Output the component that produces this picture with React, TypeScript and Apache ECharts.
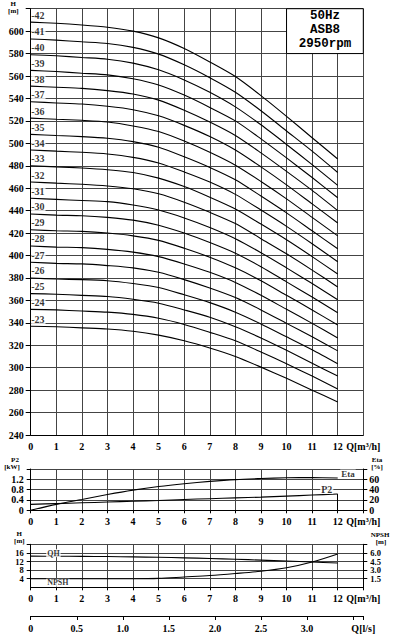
import React, { useEffect, useRef } from "react";
import * as echarts from "echarts";

// Flow rate points (m³/h)
const Q_M3H = [0, 1, 2, 3, 4, 5, 6, 7, 8, 9, 10, 11, 12];

// Stage numbers of the head curves
const STAGES = [42, 41, 40, 39, 38, 37, 36, 35, 34, 33, 32, 31, 30, 29, 28, 27, 26, 25, 24, 23];

// Head curves H [m] for each stage count
const H_42 = [608, 607, 605.5, 603.5, 600, 594, 584.5, 572.5, 559.5, 542.5, 524, 505, 486];
const H_41 = [593, 592, 590.5, 589, 585.5, 579.5, 570, 558.5, 545.5, 529, 511, 493, 474];
const H_40 = [579, 578, 576.5, 575, 571.5, 565.5, 556.5, 545.5, 532.5, 516.5, 499, 481, 462.5];
const H_39 = [565, 564, 562.5, 561, 557.5, 552, 543, 532, 520, 504, 487, 469.5, 451.5];
const H_38 = [551, 550, 549, 547, 544, 538.5, 529.5, 519, 507, 491.5, 475, 458, 440];
const H_37 = [537, 536, 535, 533, 530, 524.5, 516, 506, 494, 479, 463, 446, 429];
const H_36 = [522.5, 521.5, 520.5, 519, 515.5, 510.5, 502, 492, 480.5, 466, 450.5, 434, 417.5];
const H_35 = [508, 507, 506, 504.5, 501.5, 496.5, 488, 478.5, 467.5, 453, 438, 422, 406];
const H_34 = [494, 493, 492, 490.5, 487.5, 482.5, 474.5, 465.5, 454.5, 440.5, 426, 410.5, 394.5];
const H_33 = [480, 479, 478, 476.5, 474, 469, 461.5, 452, 441.5, 428, 414, 399, 383.5];
const H_32 = [465.5, 464.5, 463.5, 462, 459.5, 455, 447.5, 438.5, 428.5, 415, 401.5, 387, 372];
const H_31 = [451, 450, 449, 448, 445, 440.5, 433.5, 425, 415, 402.5, 389, 375, 360.5];
const H_30 = [437, 436, 435.5, 434, 431.5, 427, 420, 411.5, 402, 390, 376.5, 363, 349];
const H_29 = [423, 422, 421.5, 420, 417.5, 413.5, 406.5, 398.5, 389, 377.5, 364.5, 351.5, 338];
const H_28 = [408.5, 407.5, 407, 405.5, 403, 399, 392.5, 385, 376, 364.5, 352, 339.5, 326.5];
const H_27 = [394, 393, 392.5, 391, 389, 385, 378.5, 371, 362.5, 351.5, 339.5, 327.5, 315];
const H_26 = [380, 379, 378.5, 377.5, 375, 371.5, 365, 358, 349.5, 339, 327.5, 316, 303.5];
const H_25 = [366, 365.5, 364.5, 363.5, 361, 357.5, 351.5, 345, 336.5, 326.5, 315.5, 304, 292.5];
const H_24 = [352, 351.5, 350.5, 349.5, 347.5, 344, 338.5, 331.5, 324, 314, 303.5, 292.5, 281];
const H_23 = [337, 336.5, 335.5, 334.5, 332.5, 329, 324, 317.5, 310, 300.5, 290.5, 280, 269.5];

const HEADS = [H_42, H_41, H_40, H_39, H_38, H_37, H_36, H_35, H_34, H_33, H_32, H_31, H_30, H_29, H_28, H_27, H_26, H_25, H_24, H_23];

// Power P2 [kW] and efficiency Eta [%]
const P2_KW = [0.23, 0.26, 0.29, 0.32, 0.35, 0.38, 0.42, 0.45, 0.48, 0.51, 0.55, 0.59, 0.63];
const ETA_PCT = [0, 11.5, 21, 30.5, 39, 46, 51.5, 56, 59.5, 61.5, 63, 63.5, 62.5];

// Single stage head [m] and NPSH [m]
const QH_STAGE = [14.5, 14.45, 14.4, 14.3, 14.15, 13.95, 13.7, 13.4, 13.05, 12.65, 12.2, 11.75, 11.3];
const NPSH_M = [1.5, 1.5, 1.5, 1.5, 1.5, 1.55, 1.8, 2.05, 2.4, 2.8, 3.4, 4.4, 5.8];

const INFO_LINES = ["50Hz", "ASB8", "2950rpm"];

const FONT = "Liberation Serif";
const MONO = "Liberation Mono";
const GRID_COLOR = "#444";

const txt = (size: number) => ({
  color: "#000",
  fontFamily: FONT,
  fontWeight: "bold" as const,
  fontSize: size,
});

const pairs = (ys: number[]) => Q_M3H.map((q, i) => [q, ys[i]]);

const qLabel = (v: number) => (v === 13 ? "Q[m³/h]" : String(v));

const xAxisFor = (gridIndex: number, withTicks: boolean, splitColors?: string[]) => ({
  type: "value",
  gridIndex,
  min: 0,
  max: 13,
  interval: 1,
  axisLine: { show: true, lineStyle: { color: "#000", width: 1 } },
  axisTick: { show: withTicks, length: 3, lineStyle: { color: "#000" } },
  axisLabel: { ...txt(10), margin: 6, formatter: qLabel },
  splitLine: { show: true, lineStyle: { color: splitColors || GRID_COLOR, width: 1 } },
});

function buildOption() {
  const last = Q_M3H.length - 1;
  const panel2Colors = Q_M3H.concat([13]).map((q) => (q === 12 ? "rgba(0,0,0,0)" : GRID_COLOR));

  const curveSeries = STAGES.map((s, i) => ({
    type: "line",
    name: "H" + s,
    xAxisIndex: 0,
    yAxisIndex: 0,
    data: pairs(HEADS[i]),
    smooth: 0.25,
    symbol: "none",
    showSymbol: false,
    lineStyle: { color: "#000", width: 1.1 },
    silent: true,
    z: 3,
    ...(i === 0
      ? {
          markArea: {
            silent: true,
            itemStyle: { color: "#fff", borderColor: "#000", borderWidth: 1 },
            label: {
              show: true,
              position: "insideTop",
              distance: 1,
              formatter: INFO_LINES.join("\n"),
              color: "#000",
              fontFamily: MONO,
              fontWeight: "bold",
              fontSize: 12.5,
              lineHeight: 14,
            },
            data: [[{ xAxis: 10, yAxis: 620 }, { xAxis: 13, yAxis: 580 }]],
          },
        }
      : {}),
  }));

  const stageLabels = {
    type: "scatter",
    xAxisIndex: 0,
    yAxisIndex: 0,
    symbolSize: 1,
    itemStyle: { color: "rgba(0,0,0,0)" },
    silent: true,
    z: 5,
    data: STAGES.map((s, i) => [Q_M3H[0], HEADS[i][0], s]),
    label: {
      show: true,
      position: "right",
      distance: 0,
      offset: [0, -7],
      formatter: (p: any) => "-" + p.value[2],
      backgroundColor: "#fff",
      padding: [0, 1, 0, 0],
      ...txt(10),
    },
  };

  const annot = (xi: number, yi: number, point: number[], text: string, offset: number[], size: number) => ({
    type: "scatter",
    xAxisIndex: xi,
    yAxisIndex: yi,
    symbolSize: 1,
    itemStyle: { color: "rgba(0,0,0,0)" },
    silent: true,
    z: 5,
    data: [point],
    label: {
      show: true,
      position: "right",
      distance: 0,
      offset,
      formatter: text,
      backgroundColor: "#fff",
      padding: [0, 1],
      ...txt(size),
    },
  });

  return {
    animation: false,
    backgroundColor: "#fff",
    grid: [
      { left: 30.7, top: 8.7, width: 332.6, height: 426.3 },
      { left: 30.7, top: 469, width: 332.6, height: 41.3 },
      { left: 30.7, top: 544.3, width: 332.6, height: 43 },
      { left: 30.7, top: 606, width: 332.6, height: 10 },
    ],
    xAxis: [
      { ...xAxisFor(0, false) },
      { ...xAxisFor(1, true, panel2Colors) },
      { ...xAxisFor(2, true) },
      {
        type: "value",
        gridIndex: 3,
        min: 0,
        max: 13 / 3.6,
        interval: 0.5,
        axisLine: { show: true, lineStyle: { color: "#000", width: 1 } },
        axisTick: { show: true, length: 4, lineStyle: { color: "#000" } },
        axisLabel: {
          ...txt(10),
          margin: 7,
          showMaxLabel: true,
          formatter: (v: number) => (v > 3.55 ? "Q[l/s]" : v === 3.5 ? "" : v === 0 ? "0" : v.toFixed(1)),
        },
        splitLine: { show: false },
      },
    ],
    yAxis: [
      {
        type: "value",
        gridIndex: 0,
        min: 240,
        max: 620,
        interval: 20,
        axisLine: { show: true, lineStyle: { color: "#000" } },
        axisTick: { show: true, length: 5, lineStyle: { color: "#000" } },
        axisLabel: { ...txt(10), margin: 7, formatter: (v: number) => (v === 620 ? "" : String(v)) },
        splitLine: { show: true, lineStyle: { color: GRID_COLOR, width: 1 } },
      },
      {
        type: "value",
        gridIndex: 1,
        position: "left",
        min: 0,
        max: 1.6,
        interval: 0.4,
        axisLine: { show: true, lineStyle: { color: "#000" } },
        axisTick: { show: true, length: 4, lineStyle: { color: "#000" } },
        axisLabel: {
          ...txt(10),
          margin: 7,
          formatter: (v: number) => (v > 1.5 ? "" : v === 0 ? "0" : v.toFixed(1)),
        },
        splitLine: { show: true, lineStyle: { color: GRID_COLOR, width: 1 } },
      },
      {
        type: "value",
        gridIndex: 1,
        position: "right",
        min: 0,
        max: 80,
        interval: 20,
        axisLine: { show: true, lineStyle: { color: "#000" } },
        axisTick: { show: true, length: 4, lineStyle: { color: "#000" } },
        axisLabel: { ...txt(10), margin: 6, formatter: (v: number) => (v === 80 ? "" : String(v)) },
        splitLine: { show: false },
      },
      {
        type: "value",
        gridIndex: 2,
        position: "left",
        min: 0,
        max: 20,
        interval: 4,
        axisLine: { show: true, lineStyle: { color: "#000" } },
        axisTick: { show: true, length: 4, lineStyle: { color: "#000" } },
        axisLabel: { ...txt(8.5), margin: 7, formatter: (v: number) => (v === 20 ? "" : String(v)) },
        splitLine: { show: true, lineStyle: { color: GRID_COLOR, width: 1 } },
      },
      {
        type: "value",
        gridIndex: 2,
        position: "right",
        min: 0,
        max: 7.5,
        interval: 1.5,
        axisLine: { show: true, lineStyle: { color: "#000" } },
        axisTick: { show: true, length: 4, lineStyle: { color: "#000" } },
        axisLabel: {
          ...txt(8.5),
          margin: 7,
          formatter: (v: number) => (v > 7 ? "" : v === 0 ? "0" : v.toFixed(1)),
        },
        splitLine: { show: false },
      },
      { type: "value", gridIndex: 3, min: 0, max: 1, show: false },
    ],
    series: [
      ...curveSeries,
      stageLabels,
      {
        type: "line",
        name: "P2",
        xAxisIndex: 1,
        yAxisIndex: 1,
        data: pairs(P2_KW),
        smooth: 0.3,
        symbol: "none",
        lineStyle: { color: "#000", width: 1.1 },
        silent: true,
        z: 3,
        markLine: {
          silent: true,
          symbol: "none",
          label: { show: false },
          lineStyle: { color: "#000", width: 1, type: "solid" },
          data: [[{ coord: [Q_M3H[last], 0] }, { coord: [Q_M3H[last], P2_KW[last]] }]],
        },
      },
      {
        type: "line",
        name: "Eta",
        xAxisIndex: 1,
        yAxisIndex: 2,
        data: pairs(ETA_PCT),
        smooth: 0.3,
        symbol: "none",
        lineStyle: { color: "#000", width: 1.1 },
        silent: true,
        z: 3,
      },
      annot(1, 1, [Q_M3H[last], P2_KW[last]], "P2", [-18, -5], 10),
      annot(1, 2, [Q_M3H[last], ETA_PCT[last]], "Eta", [2, -4], 9),
      {
        type: "line",
        name: "QH",
        xAxisIndex: 2,
        yAxisIndex: 3,
        data: pairs(QH_STAGE),
        smooth: 0.3,
        symbol: "none",
        lineStyle: { color: "#000", width: 1.1 },
        silent: true,
        z: 3,
      },
      {
        type: "line",
        name: "NPSH",
        xAxisIndex: 2,
        yAxisIndex: 4,
        data: pairs(NPSH_M),
        smooth: 0.3,
        symbol: "none",
        lineStyle: { color: "#000", width: 1.1 },
        silent: true,
        z: 3,
      },
      annot(2, 3, [Q_M3H[0], QH_STAGE[0]], "QH", [15, -3], 8),
      annot(2, 4, [Q_M3H[0], NPSH_M[0]], "NPSH", [15, 4], 8),
    ],
    graphic: [
      unit("H", 13.3, 3.6),
      unit("[m]", 13.3, 10.8),
      unit("P2", 15, 459.8),
      unit("[kW]", 12, 466.8),
      unit("Eta", 377, 459.6),
      unit("[%]", 377, 466.6),
      unit("H", 19.3, 533.5),
      unit("[m]", 19.3, 540.8),
      unit("NPSH", 380, 534.5),
      unit("[m]", 381, 541.8),
    ],
  };
}

function unit(text: string, x: number, y: number) {
  return {
    type: "text",
    x,
    y,
    silent: true,
    z: 10,
    style: {
      text,
      fill: "#000",
      font: "bold 7px 'Liberation Serif'",
      align: "center",
      verticalAlign: "middle",
    },
  };
}

export default function App() {
  const ref = useRef<HTMLDivElement>(null);
  useEffect(() => {
    if (!ref.current) return;
    const chart = echarts.init(ref.current, null, { renderer: "svg" });
    chart.setOption(buildOption() as any);
    return () => chart.dispose();
  }, []);
  return (
    <div
      ref={ref}
      style={{ position: "fixed", left: 0, top: 0, width: 400, height: 643, background: "#fff" }}
    />
  );
}
